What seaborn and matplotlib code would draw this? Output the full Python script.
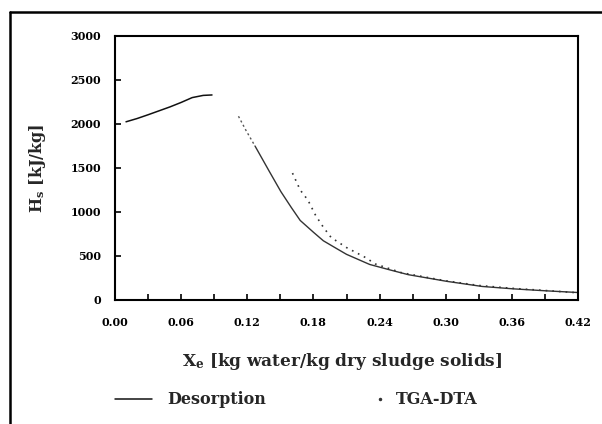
import numpy as np
import pandas as pd
import seaborn as sns
import matplotlib
matplotlib.use('Agg')
from matplotlib import pyplot as plt
from matplotlib.lines import Line2D
from matplotlib.legend_handler import HandlerLine2D

# desorption curve, first branch (rising)
des_x1 = [0.010, 0.020, 0.030, 0.040, 0.050, 0.060, 0.070, 0.080, 0.088]
des_y1 = [2025, 2062, 2105, 2150, 2195, 2245, 2300, 2325, 2330]
# faint piece before the falling branch
des_xf = [0.112, 0.119, 0.127]
des_yf = [2088, 1923, 1750]
# desorption curve, falling branch
des_x2 = [0.127, 0.140, 0.1505, 0.160, 0.168, 0.180, 0.189, 0.200, 0.210,
          0.231, 0.250, 0.266, 0.301, 0.333, 0.361, 0.390, 0.420]
des_y2 = [1750, 1461, 1231, 1050, 904, 770, 673, 592, 519,
          404, 340, 288, 212, 154, 127, 105, 85]
# TGA-DTA
tga_x = [0.161, 0.168, 0.175, 0.182, 0.189, 0.196, 0.210, 0.2275, 0.236,
         0.260, 0.300, 0.330, 0.360, 0.390, 0.420]
tga_y = [1442, 1250, 1135, 961, 827, 711, 596, 481, 410,
         310, 218, 165, 133, 108, 82]

x_ticks = [0.00, 0.06, 0.12, 0.18, 0.24, 0.30, 0.36, 0.42]
x_ticklabels = ['0.00', '0.06', '0.12', '0.18', '0.24', '0.30', '0.36', '0.42']
y_ticks = [0, 500, 1000, 1500, 2000, 2500, 3000]
y_ticklabels = ['0', '500', '1000', '1500', '2000', '2500', '3000']


class EndDotHandler(HandlerLine2D):
    # put the single marker at the right end of the legend sample
    def create_artists(self, *args, **kwargs):
        arts = super().create_artists(*args, **kwargs)
        for a in arts:
            a.set_markevery([2])
        return arts


sns.set_style('ticks')
plt.rcParams['font.family'] = ['DejaVu Serif']
plt.rcParams['font.weight'] = 'bold'
plt.rcParams['mathtext.fontset'] = 'custom'
plt.rcParams['mathtext.rm'] = 'DejaVu Serif:bold'
plt.rcParams['mathtext.it'] = 'DejaVu Serif:bold'

fig = plt.figure(figsize=(6.02, 4.24), dpi=100)
ax = fig.add_axes([115/602, 1-300/424, 463/602, 264/424])

d1 = pd.DataFrame({'x': des_x1, 'y': des_y1})
df = pd.DataFrame({'x': des_xf, 'y': des_yf})
d2 = pd.DataFrame({'x': des_x2, 'y': des_y2})
dt = pd.DataFrame({'x': tga_x, 'y': tga_y})

sns.lineplot(data=d1, x='x', y='y', ax=ax, color='#111111', lw=1.1, sort=False)
sns.lineplot(data=df, x='x', y='y', ax=ax, color='#555555', lw=1.0,
             linestyle=(0, (1.5, 2)), sort=False)
sns.lineplot(data=d2, x='x', y='y', ax=ax, color='#333333', lw=1.0, sort=False)
sns.lineplot(data=dt, x='x', y='y', ax=ax, color='#333333', lw=1.2,
             linestyle=(0, (1, 3)), sort=False)

ax.set_xlim(0, 0.42)
ax.set_ylim(0, 3000)
ax.set_xticks(x_ticks)
ax.set_xticklabels(x_ticklabels)
ax.set_xticks(np.arange(0.03, 0.42, 0.06), minor=True)
ax.set_yticks(y_ticks)
ax.set_yticklabels(y_ticklabels)
ax.tick_params(axis='both', which='both', direction='in', length=4, width=1.2,
               labelsize=8, colors='black')
ax.tick_params(axis='y', pad=10)
ax.tick_params(axis='x', pad=12)
for s in ax.spines.values():
    s.set_linewidth(1.5)
    s.set_color('black')

ax.set_xlabel(r'X$_\mathrm{e}$ [kg water/kg dry sludge solids]', fontsize=12.2, fontweight='bold')
ax.set_ylabel(r'H$_\mathrm{s}$ [kJ/kg]', fontsize=11.5, fontweight='bold')
ax.xaxis.set_label_coords(0.49, -0.193)
ax.yaxis.set_label_coords(-0.145, 0.5)

h_des = Line2D([], [], color='#111111', lw=1.1)
h_tga = Line2D([], [], color='#333333', lw=0, marker='.', markersize=3)
fig.legend([h_des, h_tga], ['Desorption', 'TGA-DTA'], loc='center left',
           bbox_to_anchor=(115/602, 1-400/424), ncol=2, frameon=False,
           borderpad=0, borderaxespad=0, handlelength=2.3, handletextpad=1.0,
           columnspacing=4.8, prop={'size': 11.5, 'weight': 'bold'},
           handler_map={h_tga: EndDotHandler()})

# outer frame of the figure panel
fig.add_artist(Line2D([10/602, 10/602], [0, 1-12/424], color='black', lw=1.8))
fig.add_artist(Line2D([10/602, 1], [1-12/424, 1-12/424], color='black', lw=1.8))

fig.savefig('out.png', dpi=100, facecolor='white')
